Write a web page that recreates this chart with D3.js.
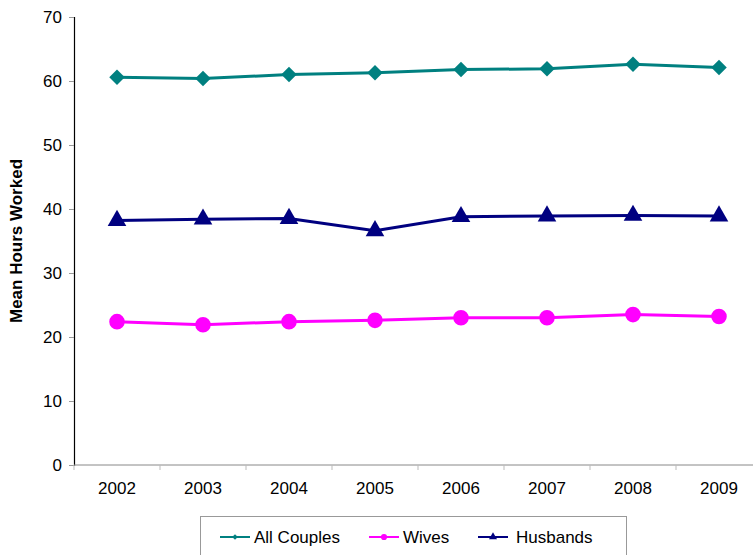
<!DOCTYPE html>
<html>
<head>
<meta charset="utf-8">
<script src="https://cdn.jsdelivr.net/npm/d3@7/dist/d3.min.js"></script>
<style>
  html, body { margin: 0; padding: 0; background: #fff; }
  svg { display: block; font-family: "Liberation Sans", Arial, Helvetica, sans-serif; }
</style>
</head>
<body>
<svg id="chart" width="753" height="555"></svg>
<script>
// Survey years and mean weekly hours worked
const years = ["2002", "2003", "2004", "2005", "2006", "2007", "2008", "2009"];
const allCouples = [60.6, 60.4, 61.0, 61.3, 61.8, 61.9, 62.6, 62.1];
const wives = [22.4, 21.9, 22.4, 22.6, 23.0, 23.0, 23.5, 23.2];
const husbands = [38.2, 38.4, 38.5, 36.6, 38.8, 38.9, 39.0, 38.9];
const yTicks = [0, 10, 20, 30, 40, 50, 60, 70];

const series = [
  { name: "All Couples", values: allCouples, color: "#008080", symbol: d3.symbolSquare, rotate: 45, size: 120, legendSize: 16 },
  { name: "Wives", values: wives, color: "#ff00ff", symbol: d3.symbolCircle, size: 190, legendSize: 30 },
  { name: "Husbands", values: husbands, color: "#000080", symbol: d3.symbolTriangle, size: 150, legendSize: 28 }
];

const svg = d3.select("#chart");
const plotLeft = 74, plotTop = 17, plotBottom = 465;
const bandW = 86;
const fs = 17;

const x = d3.scaleBand().domain(years).range([plotLeft, plotLeft + bandW * years.length]);
const y = d3.scaleLinear().domain([0, 70]).range([plotBottom, plotTop]);

// Y axis
const yAxis = svg.append("g").attr("transform", `translate(${plotLeft},0)`)
  .call(d3.axisLeft(y).tickValues(yTicks).tickSize(5).tickPadding(7));
yAxis.select(".domain").attr("stroke", "#000").attr("stroke-width", 1.2);
yAxis.selectAll(".tick line").attr("stroke", "#999");
yAxis.selectAll(".tick text").attr("font-size", fs).attr("fill", "#000")
  .attr("font-family", "Liberation Sans, Arial, sans-serif");

// X axis with ticks at category boundaries
const xAxisG = svg.append("g").attr("transform", `translate(0,${plotBottom})`);
xAxisG.append("line")
  .attr("x1", plotLeft).attr("x2", plotLeft + bandW * years.length)
  .attr("stroke", "#888").attr("stroke-width", 1);
xAxisG.selectAll("line.bound").data(d3.range(years.length + 1)).join("line")
  .attr("class", "bound")
  .attr("x1", i => plotLeft + i * x.step()).attr("x2", i => plotLeft + i * x.step())
  .attr("y1", 0).attr("y2", 5).attr("stroke", "#bbb");
xAxisG.selectAll("text").data(years).join("text")
  .attr("x", d => x(d) + x.bandwidth() / 2)
  .attr("y", 29)
  .attr("text-anchor", "middle")
  .attr("font-size", fs)
  .text(d => d);

// Y axis title
svg.append("text")
  .attr("transform", "translate(22,241) rotate(-90)")
  .attr("text-anchor", "middle")
  .attr("font-size", fs)
  .attr("font-weight", "bold")
  .text("Mean Hours Worked");

// Lines and markers
const line = d3.line()
  .x((d, i) => x(years[i]) + x.bandwidth() / 2)
  .y(d => y(d));

series.forEach(s => {
  svg.append("path")
    .datum(s.values)
    .attr("d", line)
    .attr("fill", "none")
    .attr("stroke", s.color)
    .attr("stroke-width", 3);
  svg.append("g").selectAll("path").data(s.values).join("path")
    .attr("transform", (d, i) => `translate(${x(years[i]) + x.bandwidth() / 2},${y(d)}) rotate(${s.rotate || 0})`)
    .attr("d", d3.symbol().type(s.symbol).size(s.size))
    .attr("fill", s.color);
});

// Legend
const legend = svg.append("g");
legend.append("rect")
  .attr("x", 200.5).attr("y", 516.5)
  .attr("width", 426).attr("height", 50)
  .attr("fill", "#fff").attr("stroke", "#999");
const legendX = [220, 369, 478];
series.forEach((s, i) => {
  const g = legend.append("g").attr("transform", `translate(${legendX[i]},537)`);
  g.append("line").attr("x1", 0).attr("x2", 30).attr("stroke", s.color).attr("stroke-width", 2);
  g.append("path").attr("transform", `translate(15,0) rotate(${s.rotate || 0})`)
    .attr("d", d3.symbol().type(s.symbol).size(s.legendSize)).attr("fill", s.color);
  g.append("text").attr("x", 34 + (i === 2 ? 4 : 0)).attr("y", 6)
    .attr("font-size", fs).text(s.name);
});
</script>
</body>
</html>
